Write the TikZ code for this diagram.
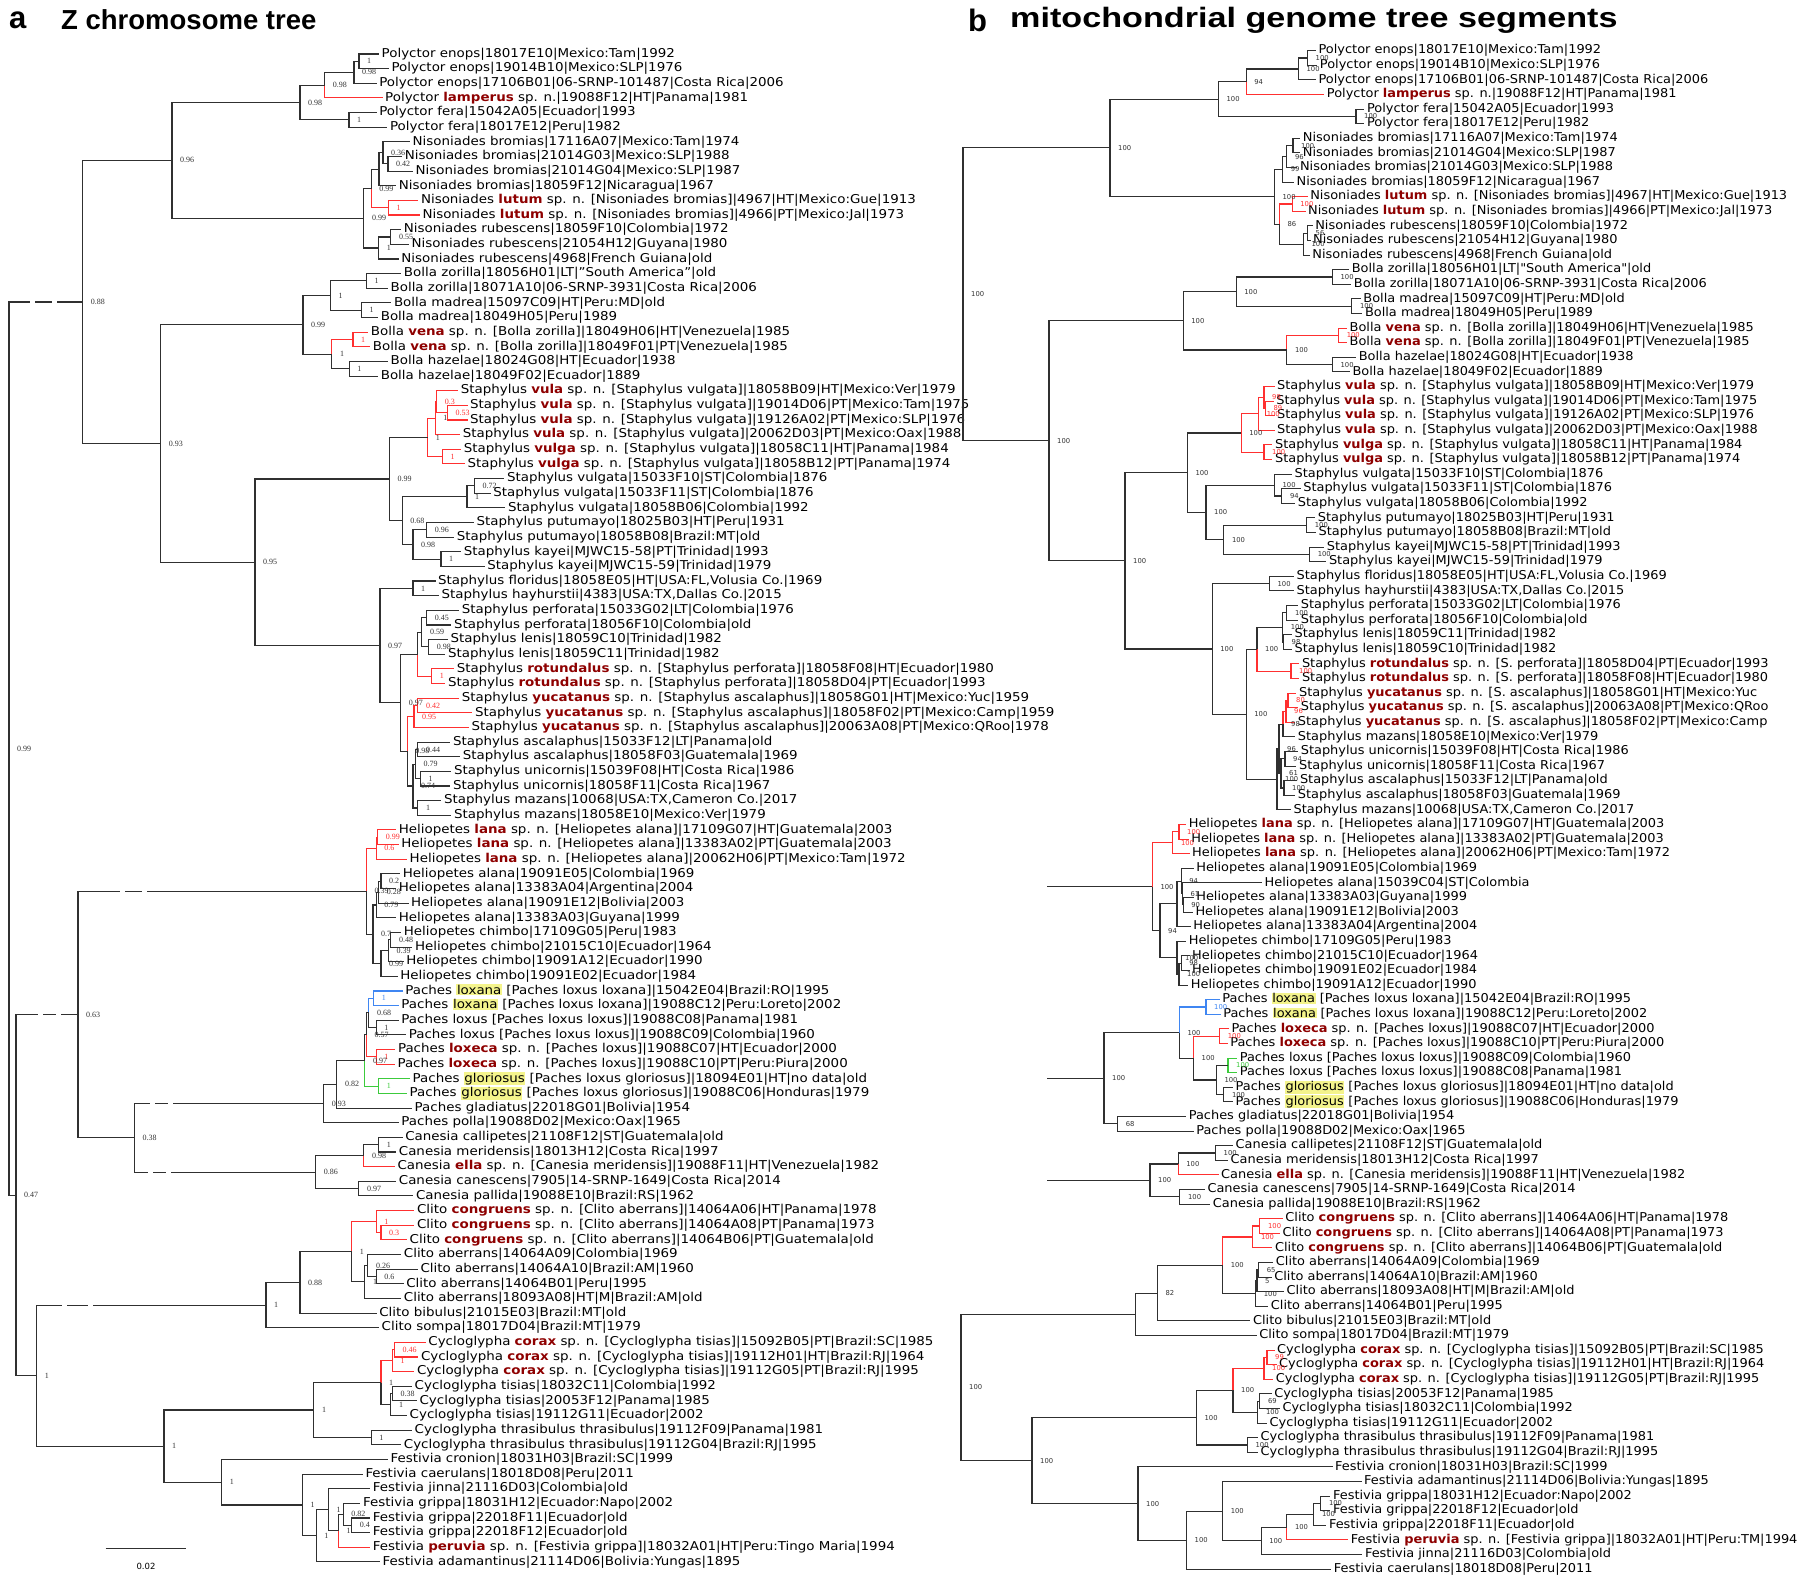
\documentclass[tikz,border=0pt]{standalone}
\usepackage{graphicx}
\usepackage{fontspec}
\setmainfont{DejaVu Sans}[FakeStretch=1.1]
\newfontfamily\leafR{DejaVu Sans}[FakeStretch=1.06]
\newfontfamily\ttlfont{Liberation Sans}
\newfontfamily\serlab{Liberation Serif}
\newfontfamily\sanlab{DejaVu Sans}
\usetikzlibrary{calc}
\definecolor{brc}{HTML}{303030}
\definecolor{rbc}{HTML}{FF3030}
\definecolor{buc}{HTML}{3F86F2}
\definecolor{gnc}{HTML}{3CCB3C}
\definecolor{nmc}{HTML}{8E0000}
\definecolor{hlc}{HTML}{F4F48C}
\definecolor{labc}{HTML}{333333}
\newcommand\spn[1]{{\bfseries\color{nmc}#1}}
\newcommand\hlt[1]{{\setlength\fboxsep{0.6pt}\colorbox{hlc}{#1}}}
\newcommand\leaffont{\fontsize{12.2}{14}\selectfont}
\tikzset{
 br/.style={draw=brc,line width=1.1pt},
 rd/.style={draw=rbc}, bu/.style={draw=buc}, gn/.style={draw=gnc},
 leaf/.style={anchor=west,inner sep=0.5pt,font=\leaffont,text height=9pt,text depth=2.5pt},
 leafb/.style={leaf,font=\leafR\leaffont},
 supa/.style={anchor=west,inner sep=0pt,font=\serlab\fontsize{8}{8}\selectfont,text=labc},
 supb/.style={anchor=west,inner sep=0pt,font=\sanlab\fontsize{6.8}{7}\selectfont,text=labc},
}
\newcommand\la[3]{\coordinate (a#1) at ({#2-2},{54+(#1-1)*14.64});\node[leaf] (a#1t) at (#2,{54+(#1-1)*14.64}) {#3};}
\newcommand\lb[3]{\coordinate (b#1) at ({#2-2},{50.7+(#1-1)*14.6});\node[leafb] (b#1t) at (#2,{50.7+(#1-1)*14.6}) {#3};}
\newcommand\N[8]{%
 \path let \p1=(#4), \p2=(#5) in coordinate (#2) at (#3pt,{0.5*\y1+0.5*\y2});
 \draw[br,#7] (#2) |- (#4);
 \draw[br,#8] (#2) |- (#5);
 \node[#1] at ([xshift=8pt]#2) {#6};}
\newcommand\NA[7]{\N{supa}{#1}{#2}{#3}{#4}{#5}{#6}{#7}}
\newcommand\NB[7]{\N{supb}{#1}{#2}{#3}{#4}{#5}{#6}{#7}}
\newcommand\gp[2]{\fill[white] ({#1},{#2-3}) rectangle ({#1+5},{#2+3});}
\begin{document}
\begin{tikzpicture}[x=1pt,y=-1pt]
\useasboundingbox[fill=white] (0,0) rectangle (1800,1583);
% titles
\node[anchor=west,inner sep=0,font=\ttlfont\bfseries\fontsize{31}{31}\selectfont] (ta) at (9,20) {a};
\node[anchor=west,inner sep=0,font=\ttlfont\bfseries\fontsize{27.5}{27.5}\selectfont] (tz) at (61,20) {Z chromosome tree};
\node[anchor=west,inner sep=0,font=\ttlfont\bfseries\fontsize{31}{31}\selectfont] (tb) at (968,20) {b};
\node[anchor=west,inner sep=0,font=\ttlfont\bfseries\fontsize{28}{28}\selectfont] (tm) at (1010,20) {\scalebox{1.22}[1]{mitochondrial genome tree segments}};
% ===== left tree leaves
\la{1}{381}{Polyctor enops|18017E10|Mexico:Tam|1992}
\la{2}{390.9}{Polyctor enops|19014B10|Mexico:SLP|1976}
\la{3}{378.6}{Polyctor enops|17106B01|06-SRNP-101487|Costa Rica|2006}
\la{4}{384.5}{Polyctor \spn{lamperus} sp. n.|19088F12|HT|Panama|1981}
\la{5}{378.6}{Polyctor fera|15042A05|Ecuador|1993}
\la{6}{389.4}{Polyctor fera|18017E12|Peru|1982}
\la{7}{412}{Nisoniades bromias|17116A07|Mexico:Tam|1974}
\la{8}{404.1}{Nisoniades bromias|21014G03|Mexico:SLP|1988}
\la{9}{414.9}{Nisoniades bromias|21014G04|Mexico:SLP|1987}
\la{10}{398.2}{Nisoniades bromias|18059F12|Nicaragua|1967}
\la{11}{420.3}{Nisoniades \spn{lutum} sp. n. [Nisoniades bromias]|4967|HT|Mexico:Gue|1913}
\la{12}{421.8}{Nisoniades \spn{lutum} sp. n. [Nisoniades bromias]|4966|PT|Mexico:Jal|1973}
\la{13}{403.2}{Nisoniades rubescens|18059F10|Colombia|1972}
\la{14}{411}{Nisoniades rubescens|21054H12|Guyana|1980}
\la{15}{400.7}{Nisoniades rubescens|4968|French Guiana|old}
\la{16}{403.2}{Bolla zorilla|18056H01|LT|"South America"|old}
\la{17}{389.9}{Bolla zorilla|18071A10|06-SRNP-3931|Costa Rica|2006}
\la{18}{393.3}{Bolla madrea|15097C09|HT|Peru:MD|old}
\la{19}{380.1}{Bolla madrea|18049H05|Peru|1989}
\la{20}{370.2}{Bolla \spn{vena} sp. n. [Bolla zorilla]|18049H06|HT|Venezuela|1985}
\la{21}{372.2}{Bolla \spn{vena} sp. n. [Bolla zorilla]|18049F01|PT|Venezuela|1985}
\la{22}{389.9}{Bolla hazelae|18024G08|HT|Ecuador|1938}
\la{23}{380.1}{Bolla hazelae|18049F02|Ecuador|1889}
\la{24}{460.1}{Staphylus \spn{vula} sp. n. [Staphylus vulgata]|18058B09|HT|Mexico:Ver|1979}
\la{25}{469.5}{Staphylus \spn{vula} sp. n. [Staphylus vulgata]|19014D06|PT|Mexico:Tam|1975}
\la{26}{469.5}{Staphylus \spn{vula} sp. n. [Staphylus vulgata]|19126A02|PT|Mexico:SLP|1976}
\la{27}{462.1}{Staphylus \spn{vula} sp. n. [Staphylus vulgata]|20062D03|PT|Mexico:Oax|1988}
\la{28}{463.1}{Staphylus \spn{vulga} sp. n. [Staphylus vulgata]|18058C11|HT|Panama|1984}
\la{29}{467}{Staphylus \spn{vulga} sp. n. [Staphylus vulgata]|18058B12|PT|Panama|1974}
\la{30}{506.3}{Staphylus vulgata|15033F10|ST|Colombia|1876}
\la{31}{492.6}{Staphylus vulgata|15033F11|ST|Colombia|1876}
\la{32}{507.3}{Staphylus vulgata|18058B06|Colombia|1992}
\la{33}{475.9}{Staphylus putumayo|18025B03|HT|Peru|1931}
\la{34}{456.2}{Staphylus putumayo|18058B08|Brazil:MT|old}
\la{35}{463.1}{Staphylus kayei|MJWC15-58|PT|Trinidad|1993}
\la{36}{486.7}{Staphylus kayei|MJWC15-59|Trinidad|1979}
\la{37}{437.5}{Staphylus floridus|18058E05|HT|USA:FL,Volusia Co.|1969}
\la{38}{441}{Staphylus hayhurstii|4383|USA:TX,Dallas Co.|2015}
\la{39}{461.1}{Staphylus perforata|15033G02|LT|Colombia|1976}
\la{40}{453.3}{Staphylus perforata|18056F10|Colombia|old}
\la{41}{449.8}{Staphylus lenis|18059C10|Trinidad|1982}
\la{42}{447.4}{Staphylus lenis|18059C11|Trinidad|1982}
\la{43}{456.2}{Staphylus \spn{rotundalus} sp. n. [Staphylus perforata]|18058F08|HT|Ecuador|1980}
\la{44}{447.4}{Staphylus \spn{rotundalus} sp. n. [Staphylus perforata]|18058D04|PT|Ecuador|1993}
\la{45}{461.1}{Staphylus \spn{yucatanus} sp. n. [Staphylus ascalaphus]|18058G01|HT|Mexico:Yuc|1959}
\la{46}{474.4}{Staphylus \spn{yucatanus} sp. n. [Staphylus ascalaphus]|18058F02|PT|Mexico:Camp|1959}
\la{47}{470.9}{Staphylus \spn{yucatanus} sp. n. [Staphylus ascalaphus]|20063A08|PT|Mexico:QRoo|1978}
\la{48}{452.3}{Staphylus ascalaphus|15033F12|LT|Panama|old}
\la{49}{462.1}{Staphylus ascalaphus|18058F03|Guatemala|1969}
\la{50}{453.3}{Staphylus unicornis|15039F08|HT|Costa Rica|1986}
\la{51}{452.3}{Staphylus unicornis|18058F11|Costa Rica|1967}
\la{52}{443.4}{Staphylus mazans|10068|USA:TX,Cameron Co.|2017}
\la{53}{453.3}{Staphylus mazans|18058E10|Mexico:Ver|1979}
\la{54}{398.2}{Heliopetes \spn{lana} sp. n. [Heliopetes alana]|17109G07|HT|Guatemala|2003}
\la{55}{400.7}{Heliopetes \spn{lana} sp. n. [Heliopetes alana]|13383A02|PT|Guatemala|2003}
\la{56}{409}{Heliopetes \spn{lana} sp. n. [Heliopetes alana]|20062H06|PT|Mexico:Tam|1972}
\la{57}{402.2}{Heliopetes alana|19091E05|Colombia|1969}
\la{58}{398.2}{Heliopetes alana|13383A04|Argentina|2004}
\la{59}{410.5}{Heliopetes alana|19091E12|Bolivia|2003}
\la{60}{398.2}{Heliopetes alana|13383A03|Guyana|1999}
\la{61}{403.2}{Heliopetes chimbo|17109G05|Peru|1983}
\la{62}{414.4}{Heliopetes chimbo|21015C10|Ecuador|1964}
\la{63}{405.6}{Heliopetes chimbo|19091A12|Ecuador|1990}
\la{64}{399.7}{Heliopetes chimbo|19091E02|Ecuador|1984}
\la{65}{404.6}{Paches \hlt{loxana} [Paches loxus loxana]|15042E04|Brazil:RO|1995}
\la{66}{400.7}{Paches \hlt{loxana} [Paches loxus loxana]|19088C12|Peru:Loreto|2002}
\la{67}{400.7}{Paches loxus [Paches loxus loxus]|19088C08|Panama|1981}
\la{68}{408.1}{Paches loxus [Paches loxus loxus]|19088C09|Colombia|1960}
\la{69}{397.3}{Paches \spn{loxeca} sp. n. [Paches loxus]|19088C07|HT|Ecuador|2000}
\la{70}{396.8}{Paches \spn{loxeca} sp. n. [Paches loxus]|19088C10|PT|Peru:Piura|2000}
\la{71}{412}{Paches \hlt{gloriosus} [Paches loxus gloriosus]|18094E01|HT|no data|old}
\la{72}{409}{Paches \hlt{gloriosus} [Paches loxus gloriosus]|19088C06|Honduras|1979}
\la{73}{414}{Paches gladiatus|22018G01|Bolivia|1954}
\la{74}{400.7}{Paches polla|19088D02|Mexico:Oax|1965}
\la{75}{404.6}{Canesia callipetes|21108F12|ST|Guatemala|old}
\la{76}{398.2}{Canesia meridensis|18013H12|Costa Rica|1997}
\la{77}{396.8}{Canesia \spn{ella} sp. n. [Canesia meridensis]|19088F11|HT|Venezuela|1982}
\la{78}{398.2}{Canesia canescens|7905|14-SRNP-1649|Costa Rica|2014}
\la{79}{415.4}{Canesia pallida|19088E10|Brazil:RS|1962}
\la{80}{416.4}{Clito \spn{congruens} sp. n. [Clito aberrans]|14064A06|HT|Panama|1978}
\la{81}{416.4}{Clito \spn{congruens} sp. n. [Clito aberrans]|14064A08|PT|Panama|1973}
\la{82}{409}{Clito \spn{congruens} sp. n. [Clito aberrans]|14064B06|PT|Guatemala|old}
\la{83}{403.2}{Clito aberrans|14064A09|Colombia|1969}
\la{84}{419.8}{Clito aberrans|14064A10|Brazil:AM|1960}
\la{85}{405.6}{Clito aberrans|14064B01|Peru|1995}
\la{86}{403.2}{Clito aberrans|18093A08|HT|M|Brazil:AM|old}
\la{87}{378.6}{Clito bibulus|21015E03|Brazil:MT|old}
\la{88}{381}{Clito sompa|18017D04|Brazil:MT|1979}
\la{89}{427.7}{Cycloglypha \spn{corax} sp. n. [Cycloglypha tisias]|15092B05|PT|Brazil:SC|1985}
\la{90}{420.3}{Cycloglypha \spn{corax} sp. n. [Cycloglypha tisias]|19112H01|HT|Brazil:RJ|1964}
\la{91}{416.4}{Cycloglypha \spn{corax} sp. n. [Cycloglypha tisias]|19112G05|PT|Brazil:RJ|1995}
\la{92}{414}{Cycloglypha tisias|18032C11|Colombia|1992}
\la{93}{418.9}{Cycloglypha tisias|20053F12|Panama|1985}
\la{94}{409}{Cycloglypha tisias|19112G11|Ecuador|2002}
\la{95}{414}{Cycloglypha thrasibulus thrasibulus|19112F09|Panama|1981}
\la{96}{403.2}{Cycloglypha thrasibulus thrasibulus|19112G04|Brazil:RJ|1995}
\la{97}{389.9}{Festivia cronion|18031H03|Brazil:SC|1999}
\la{98}{364.8}{Festivia caerulans|18018D08|Peru|2011}
\la{99}{372.2}{Festivia jinna|21116D03|Colombia|old}
\la{100}{362.4}{Festivia grippa|18031H12|Ecuador:Napo|2002}
\la{101}{372.2}{Festivia grippa|22018F11|Ecuador|old}
\la{102}{372.2}{Festivia grippa|22018F12|Ecuador|old}
\la{103}{372.2}{Festivia \spn{peruvia} sp. n. [Festivia grippa]|18032A01|HT|Peru:Tingo Maria|1994}
\la{104}{382}{Festivia adamantinus|21114D06|Bolivia:Yungas|1895}
% ===== left tree internal nodes
\NA{aP12}{359}{a1}{a2}{1}{}{}
\NA{aP123}{354}{aP12}{a3}{0.98}{}{}
\NA{aP1234}{324.6}{aP123}{a4}{0.98}{}{rd}
\NA{aP56}{349}{a5}{a6}{1}{}{}
\NA{aPol}{300}{aP1234}{aP56}{0.98}{}{}
\NA{aN89}{388}{a8}{a9}{0.42}{}{}
\NA{aN789}{383}{a7}{aN89}{0.36}{}{}
\NA{aN710}{379}{aN789}{a10}{}{}{}
\NA{aNL}{388.4}{a11}{a12}{\color{rbc}1}{rd}{rd}
\NA{aNBL}{371.2}{aN710}{aNL}{0.99}{}{rd}
\NA{aNR1}{390.9}{a13}{a14}{0.55}{}{}
\NA{aNR}{378.6}{aNR1}{a15}{1}{}{}
\NA{aNis}{363.9}{aNBL}{aNR}{0.99}{}{}
\NA{aS96}{172}{aPol}{aNis}{0.96}{}{}
\NA{aB1}{366.3}{a16}{a17}{1}{}{}
\NA{aB2}{361.4}{a18}{a19}{1}{}{}
\NA{aBZM}{330.5}{aB1}{aB2}{1}{}{}
\NA{aBV}{353}{a20}{a21}{\color{rbc}1}{rd}{rd}
\NA{aBH}{349.1}{a22}{a23}{1}{}{}
\NA{aBVH}{331.9}{aBV}{aBH}{1}{rd}{}
\NA{aBol}{303}{aBZM}{aBVH}{0.99}{}{}
\NA{aSa}{447.4}{a25}{a26}{\color{rbc}0.53}{rd}{rd}
\NA{aSb}{436.6}{a24}{aSa}{\color{rbc}0.3}{rd}{rd}
\NA{aSc}{435.1}{aSb}{a27}{1}{rd}{rd}
\NA{aSe}{442.4}{a28}{a29}{\color{rbc}1}{rd}{rd}
\NA{aSd}{427.7}{aSc}{aSe}{1}{rd}{rd}
\NA{aV1}{474.4}{a30}{a31}{0.72}{}{}
\NA{aV2}{467}{aV1}{a32}{1}{}{}
\NA{aPu}{426.7}{a33}{a34}{0.96}{}{}
\NA{aKa}{441}{a35}{a36}{1}{}{}
\NA{aG}{413}{aPu}{aKa}{0.98}{}{}
\NA{aH}{402.2}{aV2}{aG}{0.68}{}{}
\NA{aS99}{389.4}{aSd}{aH}{0.99}{}{}
\NA{aFl}{413}{a37}{a38}{1}{}{}
\NA{aPe}{426.7}{a39}{a40}{0.45}{}{}
\NA{aLe}{428.7}{a41}{a42}{0.98}{}{}
\NA{aPL}{421.8}{aPe}{aLe}{0.59}{}{}
\NA{aRo}{431.6}{a43}{a44}{\color{rbc}1}{rd}{rd}
\NA{aPLR}{417.9}{aPL}{aRo}{}{}{rd}
\NA{aY12}{417.9}{a45}{a46}{\color{rbc}0.42}{rd}{rd}
\NA{aYu}{414}{aY12}{a47}{\color{rbc}0.95}{rd}{rd}
\NA{aAs}{417.9}{a48}{a49}{0.44}{}{}
\NA{aUn}{420.3}{a50}{a51}{1}{}{}
\NA{aAU}{415.4}{aAs}{aUn}{0.79}{}{}
\NA{aMz}{417.9}{a52}{a53}{1}{}{}
\NA{aA4}{413}{aAU}{aMz}{0.74}{}{}
\NA{aYA}{407.1}{aYu}{aA4}{0.98}{rd}{}
\NA{aRest}{400.7}{aPLR}{aYA}{0.97}{}{}
\NA{aS97}{380}{aFl}{aRest}{0.97}{}{}
\NA{aS95}{255}{aS99}{aS97}{0.95}{}{}
\NA{aS93}{160.7}{aBol}{aS95}{0.93}{}{}
\NA{aS88}{82.7}{aS96}{aS93}{0.88}{}{}
\NA{aL12}{377.6}{a54}{a55}{\color{rbc}0.99}{rd}{rd}
\NA{aLa}{376.1}{aL12}{a56}{\color{rbc}0.6}{rd}{rd}
\NA{aAl1}{381}{a57}{a58}{0.2}{}{}
\NA{aAl2}{378.6}{aAl1}{a59}{0.28}{}{}
\NA{aAl3}{376.1}{aAl2}{a60}{0.79}{}{}
\NA{aCh1}{390.9}{a61}{a62}{0.48}{}{}
\NA{aCh2}{388.4}{aCh1}{a63}{0.39}{}{}
\NA{aCh3}{381}{aCh2}{a64}{0.99}{}{}
\NA{aAC}{373}{aAl3}{aCh3}{0.7}{}{}
\NA{aHel}{366.3}{aLa}{aAC}{0.39}{rd}{}
\NA{aLx}{373.7}{a65}{a66}{\color{buc}1}{bu}{bu}
\NA{aLs}{376.1}{a67}{a68}{1}{}{}
\NA{aLL}{368.8}{aLx}{aLs}{0.68}{bu}{}
\NA{aLo}{376.1}{a69}{a70}{\color{rbc}1}{rd}{rd}
\NA{aY}{366.3}{aLL}{aLo}{0.57}{}{rd}
\NA{aGl}{378.6}{a71}{a72}{\color{gnc}1}{gn}{gn}
\NA{aX}{364.8}{aY}{aGl}{0.97}{}{gn}
\NA{aPG}{336.8}{aX}{a73}{0.82}{}{}
\NA{aPP}{323.6}{aPG}{a74}{0.93}{}{}
\NA{aC12}{378.6}{a75}{a76}{1}{}{}
\NA{aCme}{363.9}{aC12}{a77}{0.98}{}{rd}
\NA{aCp}{358.9}{a78}{a79}{0.97}{}{}
\NA{aCan}{315.7}{aCme}{aCp}{0.86}{}{}
\NA{aS38}{134.3}{aPP}{aCan}{0.38}{}{}
\NA{aS63}{78}{aHel}{aS38}{0.63}{}{}
\NA{aCg23}{381}{a81}{a82}{\color{rbc}0.3}{rd}{rd}
\NA{aCg}{376.1}{a80}{aCg23}{\color{rbc}1}{rd}{rd}
\NA{aAb1}{376.1}{a84}{a85}{0.6}{}{}
\NA{aAb2}{367.8}{a83}{aAb1}{0.26}{}{}
\NA{aAb3}{364.8}{aAb2}{a86}{1}{}{}
\NA{aCI}{351.6}{aCg}{aAb3}{1}{rd}{}
\NA{aCB}{300}{aCI}{a87}{0.88}{}{}
\NA{aCli}{266}{aCB}{a88}{1}{}{}
\NA{aCx12}{394.3}{a89}{a90}{\color{rbc}0.46}{rd}{rd}
\NA{aCx}{392.3}{aCx12}{a91}{\color{rbc}1}{rd}{rd}
\NA{aTi12}{392.3}{a92}{a93}{0.38}{}{}
\NA{aTi}{390.9}{aTi12}{a94}{1}{}{}
\NA{aCT}{381}{aCx}{aTi}{1}{rd}{}
\NA{aTh}{371.2}{a95}{a96}{1}{}{}
\NA{aCyc}{313.8}{aCT}{aTh}{1}{}{}
\NA{aG23}{351.6}{a101}{a102}{0.4}{}{}
\NA{aGg}{343.2}{a100}{aG23}{0.82}{}{}
\NA{aGP}{338.3}{aGg}{a103}{1}{}{rd}
\NA{aJ}{328.5}{a99}{aGP}{1}{}{}
\NA{aJA}{316.2}{aJ}{a104}{1}{}{}
\NA{aF2}{302.5}{a98}{aJA}{1}{}{}
\NA{aFes}{221.6}{a97}{aF2}{1}{}{}
\NA{aCF}{164}{aCyc}{aFes}{1}{}{}
\NA{aLow}{36.7}{aCli}{aCF}{1}{}{}
\NA{aB47}{16}{aS63}{aLow}{0.47}{}{}
\NA{aRoot}{9}{aS88}{aB47}{0.99}{}{}
% broken long branches
\gp{30}{302}\gp{52}{302}
\gp{38}{1014.5}\gp{56}{1014.5}
\gp{120}{891.2}\gp{142}{891.2}
\gp{150}{1103.3}\gp{168}{1103.3}
\gp{148}{1172}\gp{166}{1172}
\gp{62}{1305}\gp{88}{1305}
% scale bar
\coordinate (s1) at (105.6,1548.6);
\coordinate (s2) at (186,1548.6);
\draw[br,line width=1pt] (s1) -- (s2);
\node[font=\sanlab\fontsize{8.5}{9}\selectfont] (sl) at (146,1566) {0.02};
% ===== right tree leaves
\lb{1}{1317.9}{Polyctor enops|18017E10|Mexico:Tam|1992}
\lb{2}{1319.2}{Polyctor enops|19014B10|Mexico:SLP|1976}
\lb{3}{1317.9}{Polyctor enops|17106B01|06-SRNP-101487|Costa Rica|2006}
\lb{4}{1326.2}{Polyctor \spn{lamperus} sp. n.|19088F12|HT|Panama|1981}
\lb{5}{1366.4}{Polyctor fera|15042A05|Ecuador|1993}
\lb{6}{1366.4}{Polyctor fera|18017E12|Peru|1982}
\lb{7}{1302.2}{Nisoniades bromias|17116A07|Mexico:Tam|1974}
\lb{8}{1302.2}{Nisoniades bromias|21014G04|Mexico:SLP|1987}
\lb{9}{1299.3}{Nisoniades bromias|21014G03|Mexico:SLP|1988}
\lb{10}{1295.9}{Nisoniades bromias|18059F12|Nicaragua|1967}
\lb{11}{1309.6}{Nisoniades \spn{lutum} sp. n. [Nisoniades bromias]|4967|HT|Mexico:Gue|1913}
\lb{12}{1307.5}{Nisoniades \spn{lutum} sp. n. [Nisoniades bromias]|4966|PT|Mexico:Jal|1973}
\lb{13}{1314.6}{Nisoniades rubescens|18059F10|Colombia|1972}
\lb{14}{1312.5}{Nisoniades rubescens|21054H12|Guyana|1980}
\lb{15}{1311.7}{Nisoniades rubescens|4968|French Guiana|old}
\lb{16}{1351.1}{Bolla zorilla|18056H01|LT|"South America"|old}
\lb{17}{1353.2}{Bolla zorilla|18071A10|06-SRNP-3931|Costa Rica|2006}
\lb{18}{1362.7}{Bolla madrea|15097C09|HT|Peru:MD|old}
\lb{19}{1364.3}{Bolla madrea|18049H05|Peru|1989}
\lb{20}{1349}{Bolla \spn{vena} sp. n. [Bolla zorilla]|18049H06|HT|Venezuela|1985}
\lb{21}{1349}{Bolla \spn{vena} sp. n. [Bolla zorilla]|18049F01|PT|Venezuela|1985}
\lb{22}{1358.1}{Bolla hazelae|18024G08|HT|Ecuador|1938}
\lb{23}{1351.9}{Bolla hazelae|18049F02|Ecuador|1889}
\lb{24}{1276.5}{Staphylus \spn{vula} sp. n. [Staphylus vulgata]|18058B09|HT|Mexico:Ver|1979}
\lb{25}{1275.6}{Staphylus \spn{vula} sp. n. [Staphylus vulgata]|19014D06|PT|Mexico:Tam|1975}
\lb{26}{1276.5}{Staphylus \spn{vula} sp. n. [Staphylus vulgata]|19126A02|PT|Mexico:SLP|1976}
\lb{27}{1276.5}{Staphylus \spn{vula} sp. n. [Staphylus vulgata]|20062D03|PT|Mexico:Oax|1988}
\lb{28}{1274.4}{Staphylus \spn{vulga} sp. n. [Staphylus vulgata]|18058C11|HT|Panama|1984}
\lb{29}{1274.4}{Staphylus \spn{vulga} sp. n. [Staphylus vulgata]|18058B12|PT|Panama|1974}
\lb{30}{1293.9}{Staphylus vulgata|15033F10|ST|Colombia|1876}
\lb{31}{1302.6}{Staphylus vulgata|15033F11|ST|Colombia|1876}
\lb{32}{1297.2}{Staphylus vulgata|18058B06|Colombia|1992}
\lb{33}{1317.1}{Staphylus putumayo|18025B03|HT|Peru|1931}
\lb{34}{1317.9}{Staphylus putumayo|18058B08|Brazil:MT|old}
\lb{35}{1326.2}{Staphylus kayei|MJWC15-58|PT|Trinidad|1993}
\lb{36}{1328.3}{Staphylus kayei|MJWC15-59|Trinidad|1979}
\lb{37}{1295.9}{Staphylus floridus|18058E05|HT|USA:FL,Volusia Co.|1969}
\lb{38}{1295.9}{Staphylus hayhurstii|4383|USA:TX,Dallas Co.|2015}
\lb{39}{1300.1}{Staphylus perforata|15033G02|LT|Colombia|1976}
\lb{40}{1300.1}{Staphylus perforata|18056F10|Colombia|old}
\lb{41}{1293.9}{Staphylus lenis|18059C11|Trinidad|1982}
\lb{42}{1293.9}{Staphylus lenis|18059C10|Trinidad|1982}
\lb{43}{1301.3}{Staphylus \spn{rotundalus} sp. n. [S. perforata]|18058D04|PT|Ecuador|1993}
\lb{44}{1301.3}{Staphylus \spn{rotundalus} sp. n. [S. perforata]|18058F08|HT|Ecuador|1980}
\lb{45}{1298.4}{Staphylus \spn{yucatanus} sp. n. [S. ascalaphus]|18058G01|HT|Mexico:Yuc}
\lb{46}{1300.1}{Staphylus \spn{yucatanus} sp. n. [S. ascalaphus]|20063A08|PT|Mexico:QRoo}
\lb{47}{1297.2}{Staphylus \spn{yucatanus} sp. n. [S. ascalaphus]|18058F02|PT|Mexico:Camp}
\lb{48}{1297.2}{Staphylus mazans|18058E10|Mexico:Ver|1979}
\lb{49}{1300.1}{Staphylus unicornis|15039F08|HT|Costa Rica|1986}
\lb{50}{1298.4}{Staphylus unicornis|18058F11|Costa Rica|1967}
\lb{51}{1299.3}{Staphylus ascalaphus|15033F12|LT|Panama|old}
\lb{52}{1297.2}{Staphylus ascalaphus|18058F03|Guatemala|1969}
\lb{53}{1293}{Staphylus mazans|10068|USA:TX,Cameron Co.|2017}
\lb{54}{1188.1}{Heliopetes \spn{lana} sp. n. [Heliopetes alana]|17109G07|HT|Guatemala|2003}
\lb{55}{1190.6}{Heliopetes \spn{lana} sp. n. [Heliopetes alana]|13383A02|PT|Guatemala|2003}
\lb{56}{1191.5}{Heliopetes \spn{lana} sp. n. [Heliopetes alana]|20062H06|PT|Mexico:Tam|1972}
\lb{57}{1195.6}{Heliopetes alana|19091E05|Colombia|1969}
\lb{58}{1264}{Heliopetes alana|15039C04|ST|Colombia}
\lb{59}{1195.6}{Heliopetes alana|13383A03|Guyana|1999}
\lb{60}{1194.8}{Heliopetes alana|19091E12|Bolivia|2003}
\lb{61}{1192.7}{Heliopetes alana|13383A04|Argentina|2004}
\lb{62}{1188.1}{Heliopetes chimbo|17109G05|Peru|1983}
\lb{63}{1191.5}{Heliopetes chimbo|21015C10|Ecuador|1964}
\lb{64}{1191.5}{Heliopetes chimbo|19091E02|Ecuador|1984}
\lb{65}{1190.2}{Heliopetes chimbo|19091A12|Ecuador|1990}
\lb{66}{1221.7}{Paches \hlt{loxana} [Paches loxus loxana]|15042E04|Brazil:RO|1995}
\lb{67}{1222.6}{Paches \hlt{loxana} [Paches loxus loxana]|19088C12|Peru:Loreto|2002}
\lb{68}{1230.8}{Paches \spn{loxeca} sp. n. [Paches loxus]|19088C07|HT|Ecuador|2000}
\lb{69}{1229.6}{Paches \spn{loxeca} sp. n. [Paches loxus]|19088C10|PT|Peru:Piura|2000}
\lb{70}{1239.1}{Paches loxus [Paches loxus loxus]|19088C09|Colombia|1960}
\lb{71}{1239.1}{Paches loxus [Paches loxus loxus]|19088C08|Panama|1981}
\lb{72}{1235}{Paches \hlt{gloriosus} [Paches loxus gloriosus]|18094E01|HT|no data|old}
\lb{73}{1235}{Paches \hlt{gloriosus} [Paches loxus gloriosus]|19088C06|Honduras|1979}
\lb{74}{1188.1}{Paches gladiatus|22018G01|Bolivia|1954}
\lb{75}{1195.6}{Paches polla|19088D02|Mexico:Oax|1965}
\lb{76}{1235}{Canesia callipetes|21108F12|ST|Guatemala|old}
\lb{77}{1230}{Canesia meridensis|18013H12|Costa Rica|1997}
\lb{78}{1220.5}{Canesia \spn{ella} sp. n. [Canesia meridensis]|19088F11|HT|Venezuela|1982}
\lb{79}{1206.8}{Canesia canescens|7905|14-SRNP-1649|Costa Rica|2014}
\lb{80}{1212.2}{Canesia pallida|19088E10|Brazil:RS|1962}
\lb{81}{1284.7}{Clito \spn{congruens} sp. n. [Clito aberrans]|14064A06|HT|Panama|1978}
\lb{82}{1281.8}{Clito \spn{congruens} sp. n. [Clito aberrans]|14064A08|PT|Panama|1973}
\lb{83}{1274.4}{Clito \spn{congruens} sp. n. [Clito aberrans]|14064B06|PT|Guatemala|old}
\lb{84}{1275.2}{Clito aberrans|14064A09|Colombia|1969}
\lb{85}{1273.6}{Clito aberrans|14064A10|Brazil:AM|1960}
\lb{86}{1286}{Clito aberrans|18093A08|HT|M|Brazil:AM|old}
\lb{87}{1270.2}{Clito aberrans|14064B01|Peru|1995}
\lb{88}{1252.4}{Clito bibulus|21015E03|Brazil:MT|old}
\lb{89}{1258.6}{Clito sompa|18017D04|Brazil:MT|1979}
\lb{90}{1276.5}{Cycloglypha \spn{corax} sp. n. [Cycloglypha tisias]|15092B05|PT|Brazil:SC|1985}
\lb{91}{1278.5}{Cycloglypha \spn{corax} sp. n. [Cycloglypha tisias]|19112H01|HT|Brazil:RJ|1964}
\lb{92}{1275.2}{Cycloglypha \spn{corax} sp. n. [Cycloglypha tisias]|19112G05|PT|Brazil:RJ|1995}
\lb{93}{1273.6}{Cycloglypha tisias|20053F12|Panama|1985}
\lb{94}{1281.8}{Cycloglypha tisias|18032C11|Colombia|1992}
\lb{95}{1269}{Cycloglypha tisias|19112G11|Ecuador|2002}
\lb{96}{1259.9}{Cycloglypha thrasibulus thrasibulus|19112F09|Panama|1981}
\lb{97}{1259.9}{Cycloglypha thrasibulus thrasibulus|19112G04|Brazil:RJ|1995}
\lb{98}{1334.5}{Festivia cronion|18031H03|Brazil:SC|1999}
\lb{99}{1363.5}{Festivia adamantinus|21114D06|Bolivia:Yungas|1895}
\lb{100}{1332.4}{Festivia grippa|18031H12|Ecuador:Napo|2002}
\lb{101}{1332.4}{Festivia grippa|22018F12|Ecuador|old}
\lb{102}{1328.3}{Festivia grippa|22018F11|Ecuador|old}
\lb{103}{1350.2}{Festivia \spn{peruvia} sp. n. [Festivia grippa]|18032A01|HT|Peru:TM|1994}
\lb{104}{1364.3}{Festivia jinna|21116D03|Colombia|old}
\lb{105}{1333.2}{Festivia caerulans|18018D08|Peru|2011}
% ===== right tree internal nodes
\NB{bPe12}{1307.5}{b1}{b2}{100}{}{}
\NB{bPe}{1298.4}{bPe12}{b3}{100}{}{}
\NB{bP1234}{1246.2}{bPe}{b4}{94}{}{rd}
\NB{bFe}{1356}{b5}{b6}{100}{}{}
\NB{bPol}{1218.4}{bP1234}{bFe}{100}{}{}
\NB{bN78}{1293}{b7}{b8}{100}{}{}
\NB{bN789}{1286.8}{bN78}{b9}{96}{}{}
\NB{bN710}{1282.7}{bN789}{b10}{99}{}{}
\NB{bNL}{1292.2}{b11}{b12}{\color{rbc}100}{rd}{rd}
\NB{bR1}{1307.5}{b13}{b14}{56}{}{}
\NB{bR}{1303.4}{bR1}{b15}{100}{}{}
\NB{bNLR}{1279.4}{bNL}{bR}{86}{rd}{}
\NB{bNis}{1274.4}{bN710}{bNLR}{100}{}{}
\NB{bPN}{1110}{bPol}{bNis}{100}{}{}
\NB{bZo}{1332.4}{b16}{b17}{100}{}{}
\NB{bMa}{1351.9}{b18}{b19}{100}{}{}
\NB{bZM}{1236.2}{bZo}{bMa}{100}{}{}
\NB{bVe}{1338.6}{b20}{b21}{\color{rbc}100}{rd}{rd}
\NB{bHa}{1332.4}{b22}{b23}{100}{}{}
\NB{bVH}{1286.8}{bVe}{bHa}{100}{rd}{}
\NB{bBol}{1183.2}{bZM}{bVH}{100}{}{}
\NB{bVa}{1265.3}{b25}{b26}{\color{rbc}89}{rd}{rd}
\NB{bVb}{1264}{b24}{bVa}{\color{rbc}99}{rd}{rd}
\NB{bVc}{1258.6}{bVb}{b27}{\color{rbc}100}{rd}{rd}
\NB{bVg}{1264}{b28}{b29}{\color{rbc}100}{rd}{rd}
\NB{bVd}{1241.2}{bVc}{bVg}{100}{rd}{rd}
\NB{bVg1}{1281.8}{b31}{b32}{94}{}{}
\NB{bVg2}{1274.4}{b30}{bVg1}{100}{}{}
\NB{bPu}{1306.7}{b33}{b34}{100}{}{}
\NB{bKa}{1309.6}{b35}{b36}{100}{}{}
\NB{bPK}{1223.8}{bPu}{bKa}{100}{}{}
\NB{bVul}{1206}{bVg2}{bPK}{100}{}{}
\NB{bS1}{1187.3}{bVd}{bVul}{100}{}{}
\NB{bFl}{1269.4}{b37}{b38}{100}{}{}
\NB{bP1}{1286.8}{b39}{b40}{100}{}{}
\NB{bL1}{1283.5}{b41}{b42}{98}{}{}
\NB{bPL}{1282.7}{bP1}{bL1}{100}{}{}
\NB{bRo}{1291}{b43}{b44}{\color{rbc}100}{rd}{rd}
\NB{bPLR}{1257}{bPL}{bRo}{100}{}{rd}
\NB{bY12}{1288}{b45}{b46}{\color{rbc}80}{rd}{rd}
\NB{bYu}{1286}{bY12}{b47}{\color{rbc}96}{rd}{rd}
\NB{bM1}{1283}{bYu}{b48}{98}{rd}{}
\NB{bU}{1285}{b49}{b50}{94}{}{}
\NB{bAs}{1284}{b51}{b52}{100}{}{}
\NB{bUA}{1281}{bU}{bAs}{61}{}{}
\NB{bM2}{1279}{bM1}{bUA}{96}{}{}
\NB{bYAS}{1277}{bM2}{b53}{100}{}{}
\NB{bS2}{1246.2}{bPLR}{bYAS}{100}{}{}
\NB{bS3}{1212.2}{bFl}{bS2}{100}{}{}
\NB{bSt}{1125}{bS1}{bS3}{100}{}{}
\NB{bBS}{1049}{bBol}{bSt}{100}{}{}
\NB{bTop}{963}{bPN}{bBS}{100}{}{}
% Heliopetes segment
\NB{bL12}{1179}{b54}{b55}{\color{rbc}100}{rd}{rd}
\NB{bLa}{1172.8}{bL12}{b56}{\color{rbc}100}{rd}{rd}
\NB{bA1}{1183.2}{b59}{b60}{90}{}{}
\NB{bA2}{1182.3}{b58}{bA1}{61}{}{}
\NB{bA3}{1181.1}{b57}{bA2}{94}{}{}
\NB{bAl}{1177}{bA3}{b61}{}{}{}
\NB{bC1}{1181.1}{b63}{b64}{98}{}{}
\NB{bC2}{1179}{bC1}{b65}{100}{}{}
\NB{bC3}{1177}{b62}{bC2}{100}{}{}
\NB{bAC}{1160}{bAl}{bC3}{94}{}{}
\NB{bHel}{1152.3}{bLa}{bAC}{100}{rd}{}
\coordinate (stubx) at (1047.3,0);
\draw[br] (bHel -| stubx) -- (bHel);
% Paches segment
\NB{bLx}{1206}{b66}{b67}{\color{buc}100}{bu}{bu}
\NB{bLo}{1219.7}{b68}{b69}{\color{rbc}100}{rd}{rd}
\NB{bLs}{1228}{b70}{b71}{\color{gnc}100}{gn}{gn}
\NB{bGl}{1223.8}{b72}{b73}{100}{}{}
\NB{bLG1}{1216.3}{bLs}{bGl}{100}{}{}
\NB{bLG}{1193.5}{bLo}{bLG1}{100}{rd}{}
\NB{bLXA}{1179.3}{bLx}{bLG}{100}{bu}{}
\NB{bP68}{1117.7}{b74}{b75}{68}{}{}
\NB{bPa}{1104}{bLXA}{bP68}{100}{}{}
\draw[br] (bPa -| stubx) -- (bPa);
% Canesia segment
\NB{bC12}{1215.5}{b76}{b77}{100}{}{}
\NB{bCme}{1178.2}{bC12}{b78}{100}{}{rd}
\NB{bCp}{1179.9}{b79}{b80}{100}{}{}
\NB{bCan}{1150}{bCme}{bCp}{100}{}{}
\draw[br] (bCan -| stubx) -- (bCan);
% Clito + Cycloglypha + Festivia segment
\NB{bCg12}{1259.9}{b81}{b82}{\color{rbc}100}{rd}{rd}
\NB{bCg}{1252.8}{bCg12}{b83}{\color{rbc}100}{rd}{rd}
\NB{bAb1}{1258.6}{b84}{b85}{65}{}{}
\NB{bAb2}{1257}{bAb1}{b86}{5}{}{}
\NB{bAb3}{1255.7}{bAb2}{b87}{100}{}{}
\NB{bCI}{1222.6}{bCg}{bAb3}{100}{rd}{}
\NB{bC82}{1157.3}{bCI}{b88}{82}{}{}
\NB{bCli}{1135.7}{bC82}{b89}{}{}{}
\NB{bCx12}{1267}{b90}{b91}{\color{rbc}99}{rd}{rd}
\NB{bCx}{1264}{bCx12}{b92}{\color{rbc}100}{rd}{rd}
\NB{bTi1}{1259.9}{b93}{b94}{69}{}{}
\NB{bTi}{1257.8}{bTi1}{b95}{100}{}{}
\NB{bCT}{1233}{bCx}{bTi}{100}{rd}{}
\NB{bTh}{1247.4}{b96}{b97}{100}{}{}
\NB{bCyc}{1196.4}{bCT}{bTh}{100}{}{}
\NB{bG12}{1320.8}{b100}{b101}{100}{}{}
\NB{bGg}{1313.8}{bG12}{b102}{100}{}{}
\NB{bGP}{1286.8}{bGg}{b103}{100}{}{rd}
\NB{bGJ}{1261.1}{bGP}{b104}{100}{}{}
\NB{bGA}{1222.6}{b99}{bGJ}{100}{}{}
\NB{bGC}{1186.5}{bGA}{b105}{100}{}{}
\NB{bFes}{1138}{b98}{bGC}{100}{}{}
\NB{bCF}{1032}{bCyc}{bFes}{100}{}{}
\NB{bBot}{961}{bCli}{bCF}{100}{}{}
\end{tikzpicture}
\end{document}
